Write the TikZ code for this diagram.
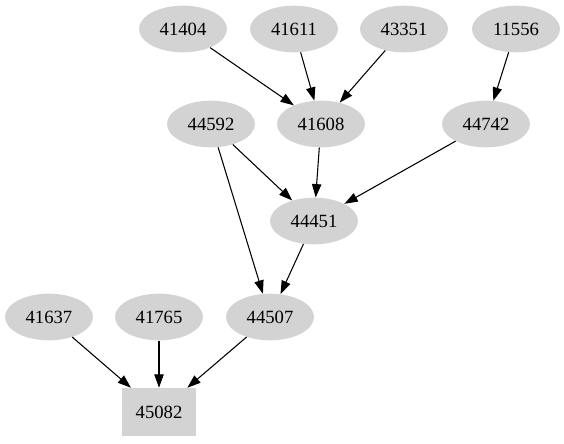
\documentclass[tikz,border=0pt]{standalone}
\usepackage{fontspec}
\setmainfont{Liberation Serif}
\usepackage{tikz}
\usetikzlibrary{shapes,arrows.meta,positioning,calc}
\usepackage{xcolor}
\definecolor{gvgray}{HTML}{D3D3D3}

\begin{document}
\begin{tikzpicture}[
    x=0.75pt, y=-0.75pt,
    task/.style={fill=gvgray, ellipse, inner sep=0pt, minimum height=35pt, minimum width=66pt, align=center, font=\fontsize{14}{16}\selectfont},
    sink/.style={fill=gvgray, rectangle, inner sep=0pt, minimum height=36pt, minimum width=55pt, align=center, font=\fontsize{14}{16}\selectfont},
    arrow/.style={line width=0.8pt, -{Triangle[length=10pt,width=7pt]}}
]
    \useasboundingbox (0,0) rectangle (564,443);

    % Draw nodes
    \node (n41404) [task] at (183,29) {41404};
    \node (n41611) [task] at (294,29) {41611};
    \node (n43351) [task] at (404,29) {43351};
    \node (n11556) [task] at (516,29) {11556};

    \node (n44592) [task] at (211,124) {44592};
    \node (n41608) [task] at (321,124) {41608};
    \node (n44742) [task] at (486,124) {44742};

    \node (n44451) [task] at (314,221) {44451};

    \node (n41637) [task] at (49,317) {41637};
    \node (n41765) [task] at (159,317) {41765};
    \node (n44507) [task] at (270,317) {44507};

    \node (n45082) [sink] at (159,412) {45082};

    % Draw connections
    \draw [arrow] (n41404) -- (n41608);
    \draw [arrow] (n41611) -- (n41608);
    \draw [arrow] (n43351) -- (n41608);
    \draw [arrow] (n11556) -- (n44742);

    \draw [arrow] (n44592) -- (n44451);
    \draw [arrow] (n44592) -- (n44507);
    \draw [arrow] (n41608) -- (n44451);
    \draw [arrow] (n44742) -- (n44451);

    \draw [arrow] (n44451) -- (n44507);

    \draw [arrow] (n41637) -- (n45082);
    \draw [arrow] (n41765) -- (n45082);
    \draw [arrow] (n44507) -- (n45082);

\end{tikzpicture}
\end{document}
